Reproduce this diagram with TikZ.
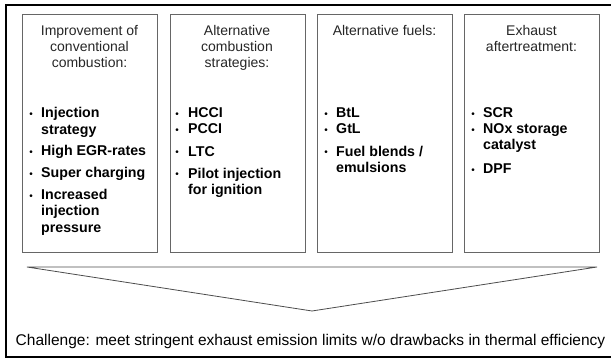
\documentclass[tikz,border=0pt]{standalone}
\usepackage{fontspec}
\setmainfont{Liberation Sans}
\begin{document}
\begin{tikzpicture}[x=1pt,y=-1pt,
 frame/.style={line width=2pt, black},
 box/.style={draw=black!60, line width=0.9pt, minimum width=135pt, minimum height=238pt, anchor=north west, inner sep=0pt},
 tri/.style={draw=black!70, line width=0.8pt},
 head/.style={align=center, font=\fontsize{14}{16}\selectfont, inner sep=0pt, anchor=north, text=black!85},
 itm/.style={align=left, font=\fontsize{14.2}{16.5}\selectfont\bfseries, inner sep=0pt, anchor=north west},
 bul/.style={font=\fontsize{10}{10}\selectfont, inner sep=0pt, anchor=base},
 chal/.style={font=\fontsize{15.5}{18}\selectfont, inner sep=0pt, anchor=base}
]
\useasboundingbox (0,0) rectangle (611,358);
% outer frame (open on the right)
\draw[frame] (611,5) -- (6,5) -- (6,357) -- (611,357);
% boxes
\node[box] (b1) at (22,14.5) {};
\node[box] (b2) at (169.5,14.5) {};
\node[box] (b3) at (317,14.5) {};
\node[box] (b4) at (464,14.5) {};
% headers (top = first baseline - 11.2)
\node[head] (h1) at (89.5,23.8) {\strut Improvement of\\conventional\\combustion:};
\node[head] (h2) at (237,23.8) {\strut Alternative\\combustion\\strategies:};
\node[head] (h3) at (384.5,23.8) {\strut Alternative fuels:};
\node[head] (h4) at (531.5,23.8) {\strut Exhaust\\aftertreatment:};
% box 1 items (top = first baseline - 11.55)
\node[bul] (p11) at (31,117.7) {•};
\node[itm] (i11) at (41,106.15) {\strut Injection\\strategy};
\node[bul] (p12) at (31,155.7) {•};
\node[itm] (i12) at (41,144.15) {\strut High EGR-rates};
\node[bul] (p13) at (31,177.7) {•};
\node[itm] (i13) at (41,166.15) {\strut Super charging};
\node[bul] (p14) at (31,199.3) {•};
\node[itm] (i14) at (41,187.75) {\strut Increased\\injection\\pressure};
% box 2 items
\node[bul] (p21) at (177,117.7) {•};
\node[itm] (i21) at (188,106.15) {\strut HCCI};
\node[bul] (p22) at (177,133.3) {•};
\node[itm] (i22) at (188,121.75) {\strut PCCI};
\node[bul] (p23) at (177,156) {•};
\node[itm] (i23) at (188,144.45) {\strut LTC};
\node[bul] (p24) at (177,178) {•};
\node[itm] (i24) at (188,166.45) {\strut Pilot injection\\for ignition};
% box 3 items
\node[bul] (p31) at (326,117.7) {•};
\node[itm] (i31) at (336,106.15) {\strut BtL};
\node[bul] (p32) at (326,133.3) {•};
\node[itm] (i32) at (336,121.75) {\strut GtL};
\node[bul] (p33) at (326,156) {•};
\node[itm] (i33) at (336,144.45) {\strut Fuel blends /\\emulsions};
% box 4 items
\node[bul] (p41) at (473,117.7) {•};
\node[itm] (i41) at (483,106.15) {\strut SCR};
\node[bul] (p42) at (473,133.3) {•};
\node[itm] (i42) at (483,121.75) {\strut NOx storage\\catalyst};
\node[bul] (p43) at (473,173.5) {•};
\node[itm] (i43) at (483,161.95) {\strut DPF};
% funnel triangle
\coordinate (tl) at (27,267);
\coordinate (tr) at (597,267);
\coordinate (tp) at (312,311);
\draw[tri] (tl) -- (tr) -- (tp) -- cycle;
% challenge
\node[chal] (ch) at (310.5,345) {Challenge: meet stringent exhaust emission limits w/o drawbacks in thermal efficiency};
\end{tikzpicture}
\end{document}
